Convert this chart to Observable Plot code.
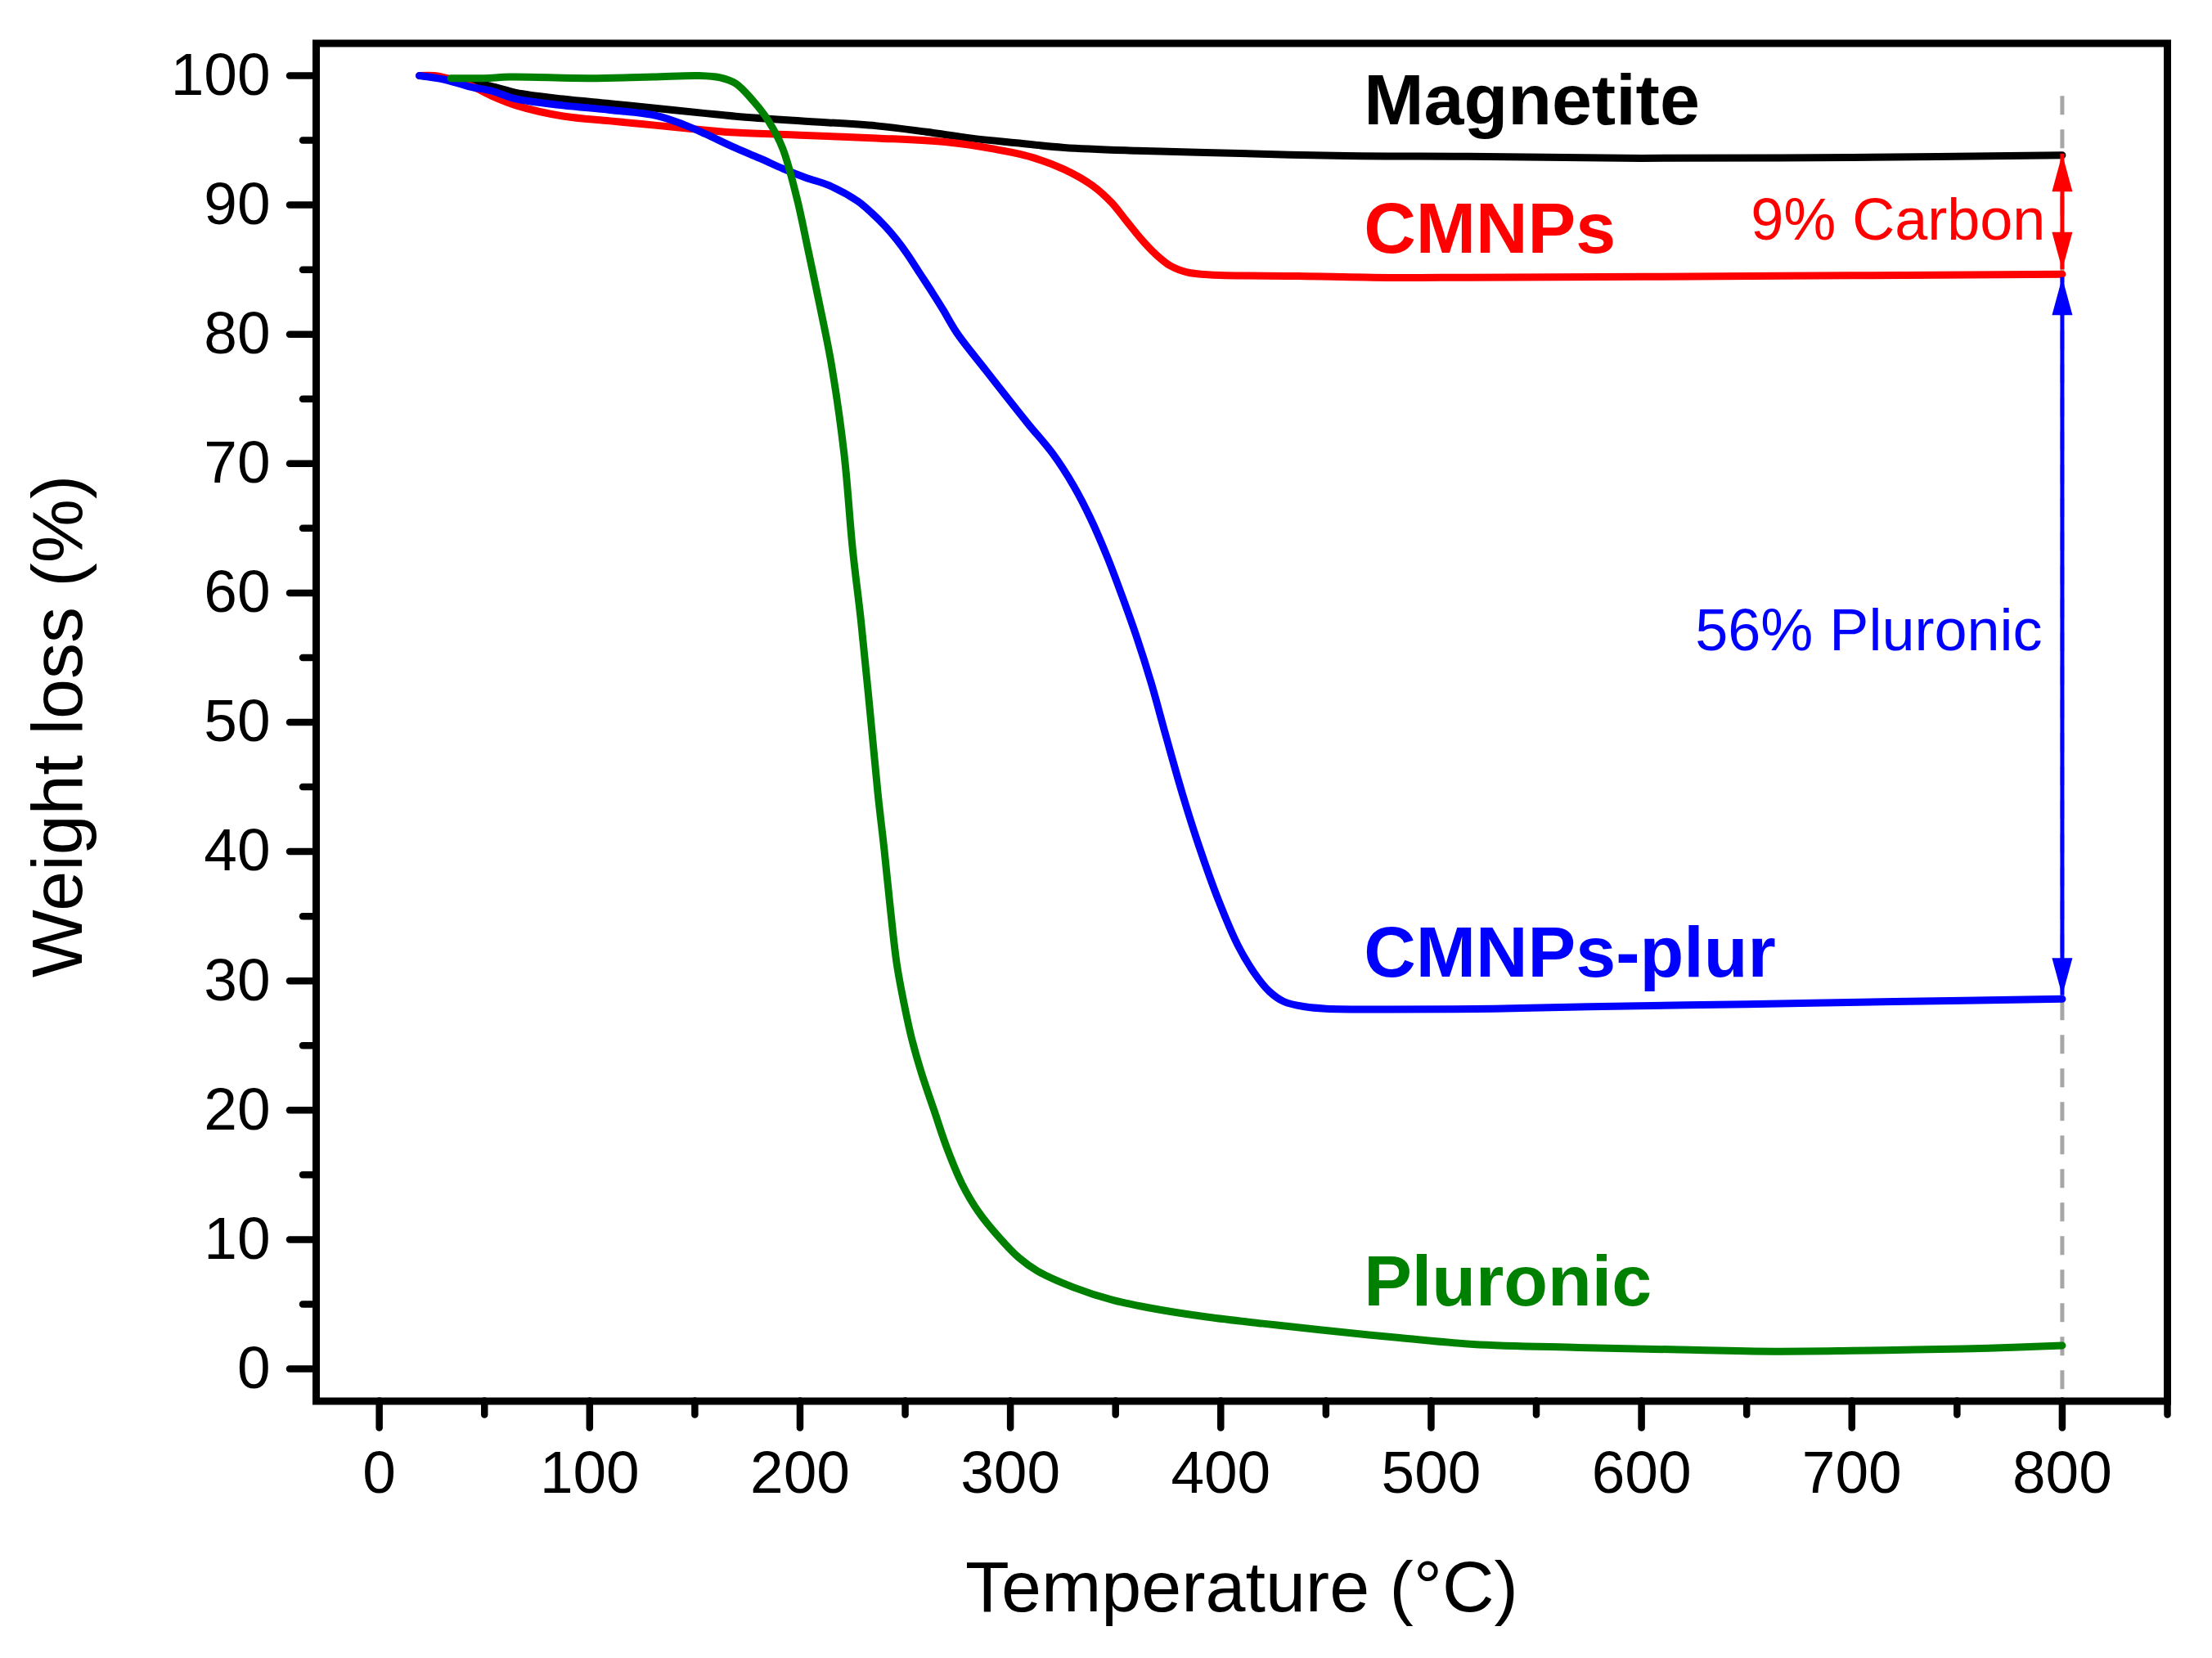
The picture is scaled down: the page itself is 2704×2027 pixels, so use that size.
<!DOCTYPE html>
<html>
<head>
<meta charset="utf-8">
<script src="https://cdn.jsdelivr.net/npm/d3@7"></script>
<script src="https://cdn.jsdelivr.net/npm/@observablehq/plot@0.6"></script>
<style>
  html, body { margin: 0; padding: 0; background: #ffffff; }
  #chart svg { display: block; }
</style>
</head>
<body>
<div id="chart"></div>
<script>
// ---- data: [temperature °C, weight %] ----
const magnetite = [
  [20,100],[31,99.8],[42.7,99.48],[53.9,99.16],[65,98.68],[87.3,98.2],[109.7,97.84],[132,97.47],
  [154.3,97.1],[169.4,96.86],[200,96.5],[236.4,96.12],[260,95.65],[281,95.17],[303,94.8],[325.6,94.44],
  [360,94.2],[392.6,94.06],[459.6,93.8],[517.6,93.75],[600,93.62],[700,93.68],[800,93.85]
];
const cmnps = [
  [19,100],[26,100],[31,99.85],[42.7,99.28],[53.9,98.4],[65,97.7],[87.3,96.87],[109.7,96.5],[132,96.15],
  [154.3,95.8],[169.4,95.6],[200,95.4],[236.4,95.17],[269.8,94.86],[292.2,94.33],[310,93.7],[325.6,92.75],
  [339,91.5],[348,90.2],[355,88.8],[362,87.4],[369,86.2],[376,85.3],[384,84.8],[395,84.6],[437,84.5],
  [480,84.38],[518,84.4],[600,84.45],[700,84.55],[800,84.65]
];
const cmnpsPlur = [
  [19,100],[31,99.7],[42.7,99.16],[53.9,98.8],[65,98.2],[87.3,97.7],[109.7,97.35],[132,96.9],[145,96.2],
  [155,95.5],[168,94.5],[181,93.6],[192,92.8],[203,92.1],[214,91.5],[227.4,90.3],[234,89.4],
  [240.8,88.3],[246,87.3],[251,86.2],[257,84.7],[263,83.2],[268,81.9],[274.6,80.1],[288.4,77.2],
  [308.3,73.1],[320,70.8],[330,68.3],[338,65.8],[346,62.8],[353,59.8],[360,56.6],[367,53.0],[374,48.9],
  [381.7,44.5],[389.6,40.45],[399,36.2],[408,32.8],[416,30.6],[423,29.2],[430,28.4],[440,28.0],[450,27.85],
  [480,27.8],[530,27.85],[575,28.0],[650,28.2],[720,28.4],[800,28.6]
];
const pluronic = [
  [34,99.8],[50,99.8],[62,99.9],[100,99.8],[130,99.9],[152,100],[162,99.85],[169.4,99.4],[178,98.0],
  [185,96.5],[191.7,94.4],[198.4,90.6],[204,86.4],[209.3,82.3],[215,77.6],[221,70.7],[225,63.4],[229,57.8],
  [233,51.3],[237,44.5],[240,40.2],[243,35.5],[246,31.3],[249.5,28.2],[253,25.6],[257.5,23.0],[263.7,20.0],
  [270,17.0],[277,14.3],[285,12.1],[295,10.1],[304,8.6],[313,7.55],[330,6.3],[349,5.3],[370,4.6],[394,4.0],
  [420,3.5],[448,3.0],[485,2.4],[520,1.9],[570,1.65],[618,1.48],[663,1.35],[700,1.4],[730,1.48],[765,1.6],[800,1.8]
];

// ---- ticks ----
const xMajorTicks = [0,100,200,300,400,500,600,700,800];
const xMinorTicks = [50,150,250,350,450,550,650,750,850];
const yMajorTicks = [0,10,20,30,40,50,60,70,80,90,100];
const yMinorTicks = [5,15,25,35,45,55,65,75,85,95];

// ---- series labels (anchor in data units) ----
const labelNames = ["Magnetite","CMNPs","CMNPs-plur","Pluronic"];
const labelX = [468,468,468,468];
const labelY = [98.0,88.1,32.1,6.7];

// ---- annotations (data units) ----
const markerT = 800;
const markerTop = 98.4;
const carbonSpan = [93.95, 85.0];
const pluronicSpan = [84.4, 28.85];
const annotationTexts = ["9% Carbon","56% Pluronic"];
const annotationX = [792, 790.5];
const annotationY = [88.8, 57.05];

// ---- styles ----
const RED = "#ff0000", BLUE = "#0000ff", GREEN = "#008000", BLACK = "#000000";
const labelColors = [BLACK, RED, BLUE, GREEN];
const FONT = "'Liberation Sans', Arial, Helvetica, sans-serif";

const headUp = {draw(ctx) { ctx.moveTo(0, 0); ctx.lineTo(12.5, 46); ctx.lineTo(-12.5, 46); ctx.closePath(); }};
const headDown = {draw(ctx) { ctx.moveTo(0, 0); ctx.lineTo(12.5, -46); ctx.lineTo(-12.5, -46); ctx.closePath(); }};

const lineOpts = (color) => ({
  x: d => d[0], y: d => d[1], stroke: color, strokeWidth: 9,
  curve: "catmull-rom", strokeLinecap: "round", strokeLinejoin: "round"
});

const labelRows = labelNames.map((n, i) => ({n, x: labelX[i], y: labelY[i], c: labelColors[i]}));
const annRows = annotationTexts.map((t, i) => ({t, x: annotationX[i], y: annotationY[i], c: i === 0 ? RED : BLUE}));

const chart = Plot.plot({
  width: 2704,
  height: 2027,
  marginLeft: 386,
  marginRight: 55,
  marginTop: 52.5,
  marginBottom: 314.5,
  style: {fontFamily: FONT, fontSize: "73px", color: "black", background: "white"},
  x: {domain: [-30, 850]},
  y: {domain: [-2.5, 102.5]},
  marks: [
    // dashed marker line
    Plot.ruleX([markerT], {y1: markerTop, y2: -2.5, stroke: "#a6a6a6", strokeWidth: 5, strokeDasharray: "23,18"}),
    // curves
    Plot.line(magnetite, lineOpts(BLACK)),
    Plot.line(cmnps, lineOpts(RED)),
    Plot.line(cmnpsPlur, lineOpts(BLUE)),
    Plot.line(pluronic, lineOpts(GREEN)),
    // arrows
    Plot.ruleX([markerT], {y1: carbonSpan[0], y2: carbonSpan[1], stroke: RED, strokeWidth: 5}),
    Plot.dot([markerT], {x: d => d, y: () => carbonSpan[0], symbol: headUp, fill: RED, stroke: "none"}),
    Plot.dot([markerT], {x: d => d, y: () => carbonSpan[1], symbol: headDown, fill: RED, stroke: "none"}),
    Plot.ruleX([markerT], {y1: pluronicSpan[0], y2: pluronicSpan[1], stroke: BLUE, strokeWidth: 5}),
    Plot.dot([markerT], {x: d => d, y: () => pluronicSpan[0], symbol: headUp, fill: BLUE, stroke: "none"}),
    Plot.dot([markerT], {x: d => d, y: () => pluronicSpan[1], symbol: headDown, fill: BLUE, stroke: "none"}),
    // series labels
    Plot.text(labelRows, {x: "x", y: "y", text: "n", fill: d => d.c, fontWeight: "bold", fontSize: 88,
      textAnchor: "start", lineAnchor: "middle", fontFamily: FONT}),
    // annotation texts
    Plot.text(annRows, {x: "x", y: "y", text: "t", fill: d => d.c, fontSize: 72,
      textAnchor: "end", lineAnchor: "middle", fontFamily: FONT}),
    // axes
    Plot.axisX(xMajorTicks, {tickSize: 33, tickPadding: 27, fontSize: 73, strokeWidth: 8.5,
      strokeLinecap: "round", label: null, tickFormat: d => String(d), fontFamily: FONT}),
    Plot.axisX(xMinorTicks, {tickSize: 17, strokeWidth: 8.5, strokeLinecap: "round", label: null, tickFormat: () => ""}),
    Plot.axisY(yMajorTicks, {tickSize: 32, tickPadding: 24, fontSize: 73, strokeWidth: 8.5,
      strokeLinecap: "round", label: null, tickFormat: d => String(d), fontFamily: FONT}),
    Plot.axisY(yMinorTicks, {tickSize: 16, strokeWidth: 8.5, strokeLinecap: "round", label: null, tickFormat: () => ""}),
    // axis titles
    Plot.text(["Temperature (°C)"], {frameAnchor: "bottom", text: d => d, dy: 257, lineAnchor: "bottom",
      textAnchor: "middle", fontSize: 88, fontFamily: FONT, fill: BLACK}),
    Plot.text(["Weight loss (%)"], {frameAnchor: "left", text: d => d, rotate: -90, dx: -287, dy: 5,
      textAnchor: "middle", lineAnchor: "bottom", fontSize: 88, fontFamily: FONT, fill: BLACK}),
    // frame
    Plot.frame({stroke: BLACK, strokeWidth: 9})
  ]
});
document.getElementById("chart").appendChild(chart);
</script>
</body>
</html>
